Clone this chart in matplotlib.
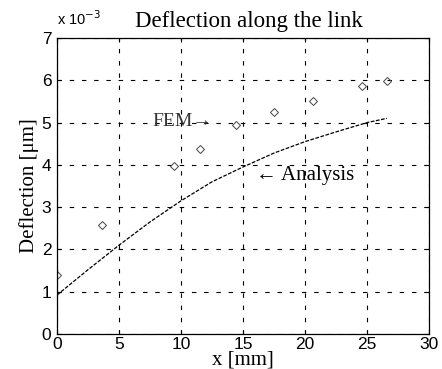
import matplotlib
matplotlib.use("Agg")
import matplotlib.pyplot as plt

# Data (deflection in units of 1e-3 um)
analysis_x = [0, 2.5, 5, 7.5, 10, 12.5, 15, 17.5, 20, 22.5, 25, 26.6]
analysis_y = [0.92, 1.52, 2.1, 2.65, 3.15, 3.6, 3.95, 4.28, 4.55, 4.78, 5.0, 5.1]
fem_x = [0, 3.6, 9.4, 11.5, 14.4, 17.5, 20.6, 24.6, 26.6]
fem_y = [1.4, 2.58, 3.97, 4.37, 4.94, 5.25, 5.5, 5.86, 5.98]
xticks = [0, 5, 10, 15, 20, 25, 30]
yticks = [0, 1, 2, 3, 4, 5, 6, 7]

sans = ["Liberation Sans", "DejaVu Sans"]
serif = ["Liberation Serif", "DejaVu Serif"]

fig = plt.figure(figsize=(4.42, 3.69), dpi=100)
ax = fig.add_axes([0.129, 0.095, 0.842, 0.802])

ax.plot(analysis_x, analysis_y, color="black", lw=0.9, ls=(0, (3, 1.2)))
ax.plot(fem_x, fem_y, ls="none", marker="D", ms=4, mfc="none", mec="#444444", mew=0.7)

ax.set_xlim(0, 30)
ax.set_ylim(0, 7)
ax.set_xticks(xticks)
ax.set_yticks(yticks)
ax.grid(True, color="black", ls=(0, (4, 7)), lw=0.8)
ax.tick_params(direction="in", top=True, right=True, length=3, labelsize=12.5)
for lab in ax.get_xticklabels() + ax.get_yticklabels():
    lab.set_family(sans)
ax.tick_params(axis="x", pad=2)
ax.tick_params(axis="y", pad=4)
for s in ax.spines.values():
    s.set_linewidth(0.9)

ax.set_title("Deflection along the link", family=serif, fontsize=16.5, pad=8, x=0.515)
ax.set_xlabel("x [mm]", family=serif, fontsize=15, labelpad=-1)
ax.set_ylabel("Deflection [\u03bcm]", family=serif, fontsize=15, labelpad=2)
ax.text(0.0, 1.035, "x 10$^{-3}$", transform=ax.transAxes, family=sans, fontsize=10.5,
        ha="left", va="bottom")

ax.text(7.7, 5.03, "FEM\u2192", family=serif, fontsize=14, va="center", ha="left", color="#333333")
ax.text(16.0, 3.74, "\u2190 Analysis", family=serif, fontsize=15, va="center", ha="left")

fig.savefig("out.png", dpi=100)
